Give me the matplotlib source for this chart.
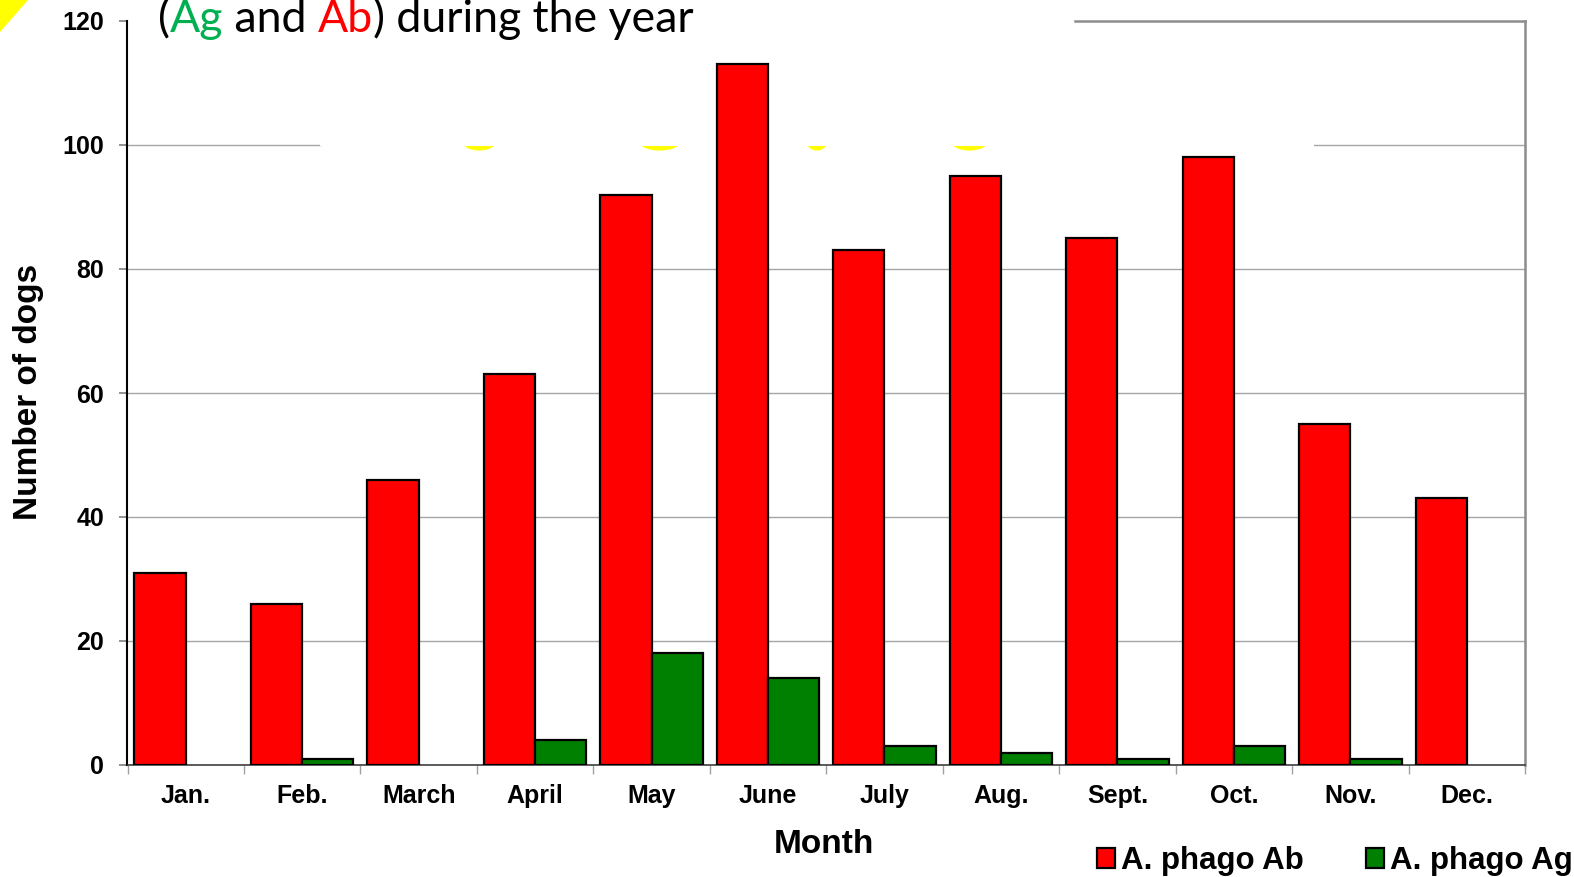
import matplotlib
matplotlib.use("Agg")
import matplotlib.pyplot as plt
from matplotlib.patches import Polygon, Ellipse, Rectangle, Patch
import numpy as np

months = ["Jan.", "Feb.", "March", "April", "May", "June", "July", "Aug.",
          "Sept.", "Oct.", "Nov.", "Dec."]
ab_values = [31, 26, 46, 63, 92, 113, 83, 95, 85, 98, 55, 43]
ag_values = [0, 1, 0, 4, 18, 14, 3, 2, 1, 3, 1, 0]
y_ticks = [0, 20, 40, 60, 80, 100, 120]
series_names = ["A. phago Ab", "A. phago Ag"]
series_colors = ["#FF0000", "#008000"]

plt.rcParams['font.family'] = ['Liberation Sans', 'DejaVu Sans']

W, H = 1574, 877
fig = plt.figure(figsize=(W / 100, H / 100), dpi=100)
fig.patch.set_facecolor("white")
ax = fig.add_axes([127.5 / W, 1 - 765 / H, (1525 - 127.5) / W, (765 - 21) / H])

x = np.arange(len(months))
w = 0.44
b1 = ax.bar(x - w / 2, ab_values, w, color=series_colors[0], edgecolor="black",
            linewidth=1.6, zorder=3)
b2 = ax.bar(x + w / 2, ag_values, w, color=series_colors[1], edgecolor="black",
            linewidth=1.6, zorder=3)
for bars, vals in ((b1, ab_values), (b2, ag_values)):
    for r, v in zip(bars.patches, vals):
        if v == 0:
            r.set_visible(False)

ax.set_xlim(-0.5, len(months) - 0.5)
ax.set_ylim(0, 120)
ax.set_yticks(y_ticks)
ax.set_yticklabels([str(v) for v in y_ticks], fontsize=18, fontweight="bold")
ax.set_xticks(x)
ax.set_xticklabels(months, fontsize=18, fontweight="bold")
ax.set_xticks(np.arange(-0.5, len(months)), minor=True)
ax.tick_params(axis="x", which="major", length=0, pad=14)
ax.tick_params(axis="x", which="minor", length=6.5, width=1, color="#A0A0A0",
               direction="out")
ax.tick_params(axis="y", which="major", length=6, width=1.2, color="#808080",
               direction="out", pad=11)

# grid
ax.yaxis.grid(True, color="#A6A6A6", linewidth=1, zorder=0)
ax.set_axisbelow(True)
gl = ax.get_ygridlines()
gl[5].set_visible(False)
gl[6].set_visible(False)
ax.axhline(100, xmin=0, xmax=0.1385, color="#A6A6A6", linewidth=1, zorder=0)
ax.axhline(100, xmin=0.849, xmax=1, color="#A6A6A6", linewidth=1, zorder=0)

# spines
ax.spines["top"].set_visible(False)
ax.axhline(120, xmin=0.678, xmax=1, color="#8C8C8C", linewidth=1.8,
           clip_on=False, zorder=2)
ax.spines["right"].set_color("#8C8C8C")
ax.spines["right"].set_linewidth(1.8)
ax.spines["left"].set_color("black")
ax.spines["left"].set_linewidth(1.5)
ax.spines["bottom"].set_color("#404040")
ax.spines["bottom"].set_linewidth(1.2)

# yellow slide fragments, partially hidden by a white overlay
for cx, hw in [(2.52, 0.14), (4.07, 0.17), (5.42, 0.085), (6.73, 0.15)]:
    ax.add_patch(Ellipse((cx, 100.4), 2 * hw, 2.6, color="#FFFF00", zorder=1,
                         linewidth=0))
ax.add_patch(Rectangle((1.15, 99.85), 8.54, 20, color="white", zorder=1.5,
                       linewidth=0))

# yellow corner
fig.patches.append(Polygon([(0, 1), (28 / W, 1), (0, 1 - 32 / H)],
                           closed=True, transform=fig.transFigure,
                           facecolor="#FFFF00", edgecolor="none"))

# axis labels
fig.text(824 / W, 1 - 853 / H, "Month", fontsize=24, fontweight="bold",
         ha="center", va="baseline")
fig.text(29 / W, 1 - 391.5 / H, "Number of dogs", fontsize=24,
         fontweight="bold", ha="center", va="center", rotation=90)

# legend
handles = [Patch(facecolor=c, edgecolor="black", linewidth=1.6, label=n)
           for c, n in zip(series_colors, series_names)]
fig.legend(handles=handles, loc="center left",
           bbox_to_anchor=(1097 / W, 1 - 861 / H), ncol=2, frameon=False,
           prop={"weight": "bold", "size": 22.5},
           handlelength=0.57, handleheight=0.6, handletextpad=0.2,
           columnspacing=2.0, borderpad=0, borderaxespad=0)

# title fragment (multi-coloured)
parts = [("(", "black"), ("Ag", "#00B050"), (" and ", "black"),
         ("Ab", "#FF0000"), (") during the year", "black")]
title_font = ["Lato", "DejaVu Sans"]
fig.canvas.draw()
renderer = fig.canvas.get_renderer()


def text_width(s, fs):
    t = fig.text(0, 0, s, fontsize=fs, family=title_font)
    wpx = t.get_window_extent(renderer).width
    t.remove()
    return wpx


full = "".join(p[0] for p in parts)
fs0 = 30
fs = fs0 * 535 / text_width(full, fs0)
ref = text_width("x", fs)
x0 = 157.6
y0 = 1 - 32 / H
prefix = ""
for s, c in parts:
    off = text_width(prefix + "x", fs) - ref if prefix else 0
    fig.text((x0 + off) / W, y0, s, fontsize=fs, family=title_font, color=c,
             ha="left", va="baseline")
    prefix += s

fig.savefig("out.png", dpi=100, facecolor="white")
